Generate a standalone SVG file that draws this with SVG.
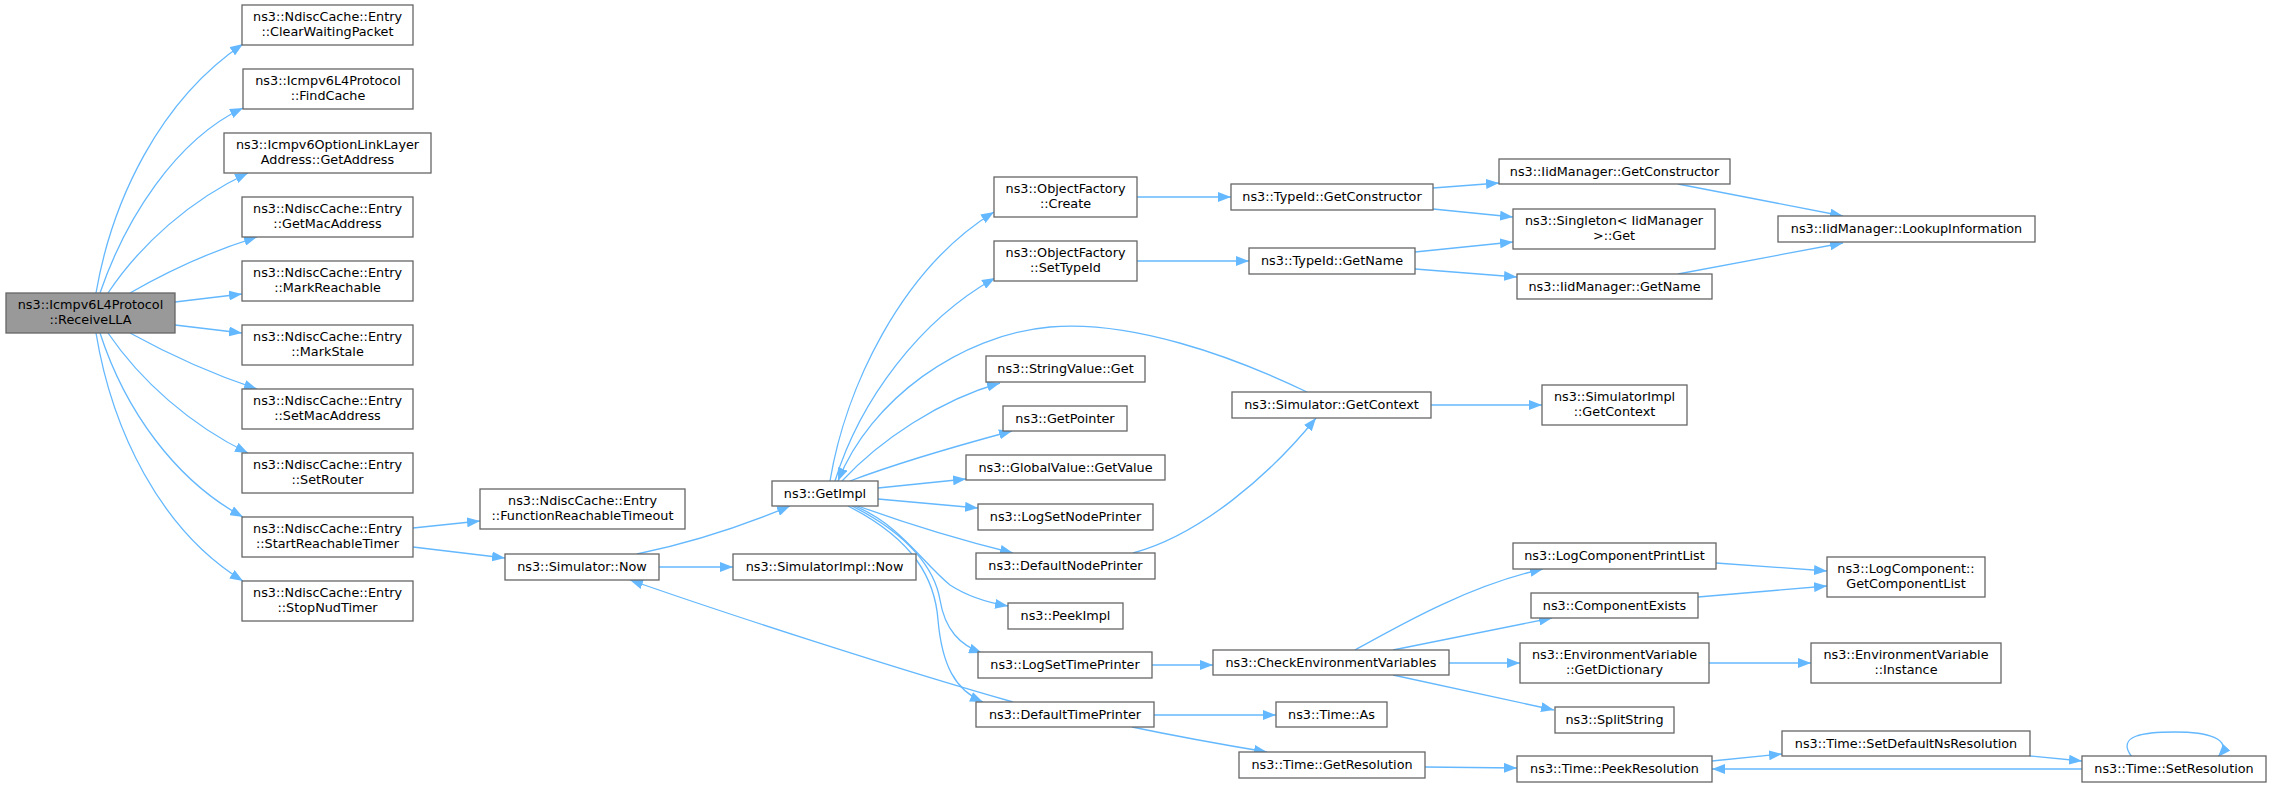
<svg xmlns="http://www.w3.org/2000/svg" width="2272" height="787" viewBox="0 0 2272 787">
<style>
.node rect{fill:#fff;stroke:#666;stroke-width:1.3}
.root rect{fill:#999}
text{font-family:"DejaVu Sans","Liberation Sans",sans-serif;font-size:12.8px;text-anchor:middle;fill:#000}
.e{fill:none;stroke:#63b8ff;stroke-width:1.3;marker-end:url(#arr)}
</style>
<defs>
<marker id="arr" markerUnits="userSpaceOnUse" viewBox="0 0 13 10" markerWidth="13" markerHeight="10" refX="13" refY="5" orient="auto">
<path d="M0,0 L13,5 L0,10 z" fill="#63b8ff"/>
</marker>
</defs>
<rect width="2272" height="787" fill="#fff"/>
<g id="edges">
<path class="e" d="M96,293 C112,200 160,100 243,44"/>
<path class="e" d="M100,293 C125,220 175,140 243,108"/>
<path class="e" d="M108,293 C140,245 190,200 248,173"/>
<path class="e" d="M130,293 C170,270 215,250 257,237"/>
<path class="e" d="M175,302 L242,294"/>
<path class="e" d="M175,325 L242,333"/>
<path class="e" d="M130,333 C170,355 215,375 257,389"/>
<path class="e" d="M108,333 C140,380 190,425 248,453"/>
<path class="e" d="M100,333 C125,410 175,480 243,517"/>
<path class="e" d="M96,333 C112,430 160,530 243,581"/>
<path class="e" d="M413,528 L480,521"/>
<path class="e" d="M413,547 L505,558"/>
<path class="e" d="M637,554 C690,543 745,525 790,506"/>
<path class="e" d="M659,567 L733,567"/>
<path class="e" d="M830,481 C845,390 900,270 994,212"/>
<path class="e" d="M835,481 C860,400 920,320 995,278"/>
<path class="e" d="M1307,392 C1230,355 1130,320 1050,327 C960,335 870,400 838,481"/>
<path class="e" d="M842,481 C880,440 940,400 1000,383"/>
<path class="e" d="M850,481 C900,462 960,445 1012,431"/>
<path class="e" d="M878,488 L966,479"/>
<path class="e" d="M878,499 L978,508"/>
<path class="e" d="M858,506 C905,523 960,540 1013,553"/>
<path class="e" d="M855,506 C900,525 920,560 950,585 C970,598 990,603 1008,606"/>
<path class="e" d="M852,506 C910,535 935,570 940,600 C945,630 960,645 982,653"/>
<path class="e" d="M848,506 C915,540 935,580 938,620 C942,665 955,690 983,702"/>
<path class="e" d="M1431,405 L1542,405"/>
<path class="e" d="M1133,553 C1200,535 1270,475 1316,418"/>
<path class="e" d="M1013,702 C900,670 730,615 630,580"/>
<path class="e" d="M1154,715 L1276,715"/>
<path class="e" d="M1132,727 C1180,737 1225,745 1267,752"/>
<path class="e" d="M1152,665 L1213,665"/>
<path class="e" d="M1355,650 C1400,625 1470,585 1543,569"/>
<path class="e" d="M1393,650 L1552,618"/>
<path class="e" d="M1449,663 L1520,663"/>
<path class="e" d="M1393,675 L1554,710"/>
<path class="e" d="M1716,563 L1827,571"/>
<path class="e" d="M1698,597 L1827,586"/>
<path class="e" d="M1709,663 L1811,663"/>
<path class="e" d="M1425,767 L1517,768"/>
<path class="e" d="M1712,761 L1782,754"/>
<path class="e" d="M2030,756 L2082,761"/>
<path class="e" d="M2082,769 L1712,769"/>
<path class="e" d="M2132,757 C2115,735 2145,732 2175,732 C2205,732 2235,738 2218,757"/>
<path class="e" d="M1137,197 L1231,197"/>
<path class="e" d="M1137,261 L1249,261"/>
<path class="e" d="M1433,188 L1499,183"/>
<path class="e" d="M1433,209 L1513,217"/>
<path class="e" d="M1415,252 L1513,242"/>
<path class="e" d="M1415,269 L1517,277"/>
<path class="e" d="M1678,184 L1843,216"/>
<path class="e" d="M1678,274 L1843,243"/>
</g>
<g id="n0" class="node root"><rect x="6" y="293" width="169" height="40"/><text x="90.5" y="309">ns3::Icmpv6L4Protocol</text><text x="90.5" y="324">::ReceiveLLA</text></g>
<g id="n1" class="node"><rect x="242" y="5" width="171" height="40"/><text x="327.5" y="21">ns3::NdiscCache::Entry</text><text x="327.5" y="36">::ClearWaitingPacket</text></g>
<g id="n2" class="node"><rect x="243" y="69" width="170" height="40"/><text x="328" y="85">ns3::Icmpv6L4Protocol</text><text x="328" y="100">::FindCache</text></g>
<g id="n3" class="node"><rect x="224" y="133" width="207" height="40"/><text x="327.5" y="149">ns3::Icmpv6OptionLinkLayer</text><text x="327.5" y="164">Address::GetAddress</text></g>
<g id="n4" class="node"><rect x="242" y="197" width="171" height="40"/><text x="327.5" y="213">ns3::NdiscCache::Entry</text><text x="327.5" y="228">::GetMacAddress</text></g>
<g id="n5" class="node"><rect x="242" y="261" width="171" height="40"/><text x="327.5" y="277">ns3::NdiscCache::Entry</text><text x="327.5" y="292">::MarkReachable</text></g>
<g id="n6" class="node"><rect x="242" y="325" width="171" height="40"/><text x="327.5" y="341">ns3::NdiscCache::Entry</text><text x="327.5" y="356">::MarkStale</text></g>
<g id="n7" class="node"><rect x="242" y="389" width="171" height="40"/><text x="327.5" y="405">ns3::NdiscCache::Entry</text><text x="327.5" y="420">::SetMacAddress</text></g>
<g id="n8" class="node"><rect x="242" y="453" width="171" height="40"/><text x="327.5" y="469">ns3::NdiscCache::Entry</text><text x="327.5" y="484">::SetRouter</text></g>
<g id="n9" class="node"><rect x="242" y="517" width="171" height="40"/><text x="327.5" y="533">ns3::NdiscCache::Entry</text><text x="327.5" y="548">::StartReachableTimer</text></g>
<g id="n10" class="node"><rect x="242" y="581" width="171" height="40"/><text x="327.5" y="597">ns3::NdiscCache::Entry</text><text x="327.5" y="612">::StopNudTimer</text></g>
<g id="n11" class="node"><rect x="480" y="489" width="205" height="40"/><text x="582.5" y="505">ns3::NdiscCache::Entry</text><text x="582.5" y="520">::FunctionReachableTimeout</text></g>
<g id="n12" class="node"><rect x="505" y="554" width="154" height="26"/><text x="582" y="571">ns3::Simulator::Now</text></g>
<g id="n13" class="node"><rect x="733" y="554" width="183" height="26"/><text x="824.5" y="571">ns3::SimulatorImpl::Now</text></g>
<g id="n14" class="node"><rect x="772" y="481" width="106" height="25"/><text x="825" y="497.5">ns3::GetImpl</text></g>
<g id="n15" class="node"><rect x="994" y="177" width="143" height="40"/><text x="1065.5" y="193">ns3::ObjectFactory</text><text x="1065.5" y="208">::Create</text></g>
<g id="n16" class="node"><rect x="994" y="241" width="143" height="40"/><text x="1065.5" y="257">ns3::ObjectFactory</text><text x="1065.5" y="272">::SetTypeId</text></g>
<g id="n17" class="node"><rect x="986" y="356" width="159" height="26"/><text x="1065.5" y="373">ns3::StringValue::Get</text></g>
<g id="n18" class="node"><rect x="1003" y="406" width="124" height="25"/><text x="1065" y="422.5">ns3::GetPointer</text></g>
<g id="n19" class="node"><rect x="966" y="455" width="199" height="25"/><text x="1065.5" y="471.5">ns3::GlobalValue::GetValue</text></g>
<g id="n20" class="node"><rect x="978" y="504" width="175" height="26"/><text x="1065.5" y="521">ns3::LogSetNodePrinter</text></g>
<g id="n21" class="node"><rect x="976" y="553" width="179" height="26"/><text x="1065.5" y="570">ns3::DefaultNodePrinter</text></g>
<g id="n22" class="node"><rect x="1008" y="603" width="115" height="26"/><text x="1065.5" y="620">ns3::PeekImpl</text></g>
<g id="n23" class="node"><rect x="978" y="652" width="174" height="26"/><text x="1065" y="669">ns3::LogSetTimePrinter</text></g>
<g id="n24" class="node"><rect x="976" y="702" width="178" height="25"/><text x="1065" y="718.5">ns3::DefaultTimePrinter</text></g>
<g id="n25" class="node"><rect x="1231" y="184" width="202" height="26"/><text x="1332" y="201">ns3::TypeId::GetConstructor</text></g>
<g id="n26" class="node"><rect x="1249" y="248" width="166" height="26"/><text x="1332" y="265">ns3::TypeId::GetName</text></g>
<g id="n27" class="node"><rect x="1232" y="392" width="199" height="26"/><text x="1331.5" y="409">ns3::Simulator::GetContext</text></g>
<g id="n28" class="node"><rect x="1542" y="385" width="145" height="40"/><text x="1614.5" y="401">ns3::SimulatorImpl</text><text x="1614.5" y="416">::GetContext</text></g>
<g id="n29" class="node"><rect x="1499" y="159" width="231" height="25"/><text x="1614.5" y="175.5">ns3::IidManager::GetConstructor</text></g>
<g id="n30" class="node"><rect x="1513" y="209" width="202" height="40"/><text x="1614" y="225">ns3::Singleton&lt; IidManager</text><text x="1614" y="240">&gt;::Get</text></g>
<g id="n31" class="node"><rect x="1517" y="274" width="195" height="25"/><text x="1614.5" y="290.5">ns3::IidManager::GetName</text></g>
<g id="n32" class="node"><rect x="1778" y="216" width="257" height="26"/><text x="1906.5" y="233">ns3::IidManager::LookupInformation</text></g>
<g id="n33" class="node"><rect x="1213" y="650" width="236" height="25"/><text x="1331" y="666.5">ns3::CheckEnvironmentVariables</text></g>
<g id="n34" class="node"><rect x="1276" y="702" width="111" height="25"/><text x="1331.5" y="718.5">ns3::Time::As</text></g>
<g id="n35" class="node"><rect x="1239" y="752" width="186" height="26"/><text x="1332" y="769">ns3::Time::GetResolution</text></g>
<g id="n36" class="node"><rect x="1513" y="543" width="203" height="26"/><text x="1614.5" y="560">ns3::LogComponentPrintList</text></g>
<g id="n37" class="node"><rect x="1531" y="593" width="167" height="25"/><text x="1614.5" y="609.5">ns3::ComponentExists</text></g>
<g id="n38" class="node"><rect x="1520" y="643" width="189" height="40"/><text x="1614.5" y="659">ns3::EnvironmentVariable</text><text x="1614.5" y="674">::GetDictionary</text></g>
<g id="n39" class="node"><rect x="1555" y="707" width="119" height="26"/><text x="1614.5" y="724">ns3::SplitString</text></g>
<g id="n40" class="node"><rect x="1827" y="557" width="158" height="40"/><text x="1906" y="573">ns3::LogComponent::</text><text x="1906" y="588">GetComponentList</text></g>
<g id="n41" class="node"><rect x="1811" y="643" width="190" height="40"/><text x="1906" y="659">ns3::EnvironmentVariable</text><text x="1906" y="674">::Instance</text></g>
<g id="n42" class="node"><rect x="1782" y="731" width="248" height="25"/><text x="1906" y="747.5">ns3::Time::SetDefaultNsResolution</text></g>
<g id="n43" class="node"><rect x="1517" y="756" width="195" height="26"/><text x="1614.5" y="773">ns3::Time::PeekResolution</text></g>
<g id="n44" class="node"><rect x="2082" y="756" width="184" height="26"/><text x="2174" y="773">ns3::Time::SetResolution</text></g>
</svg>
